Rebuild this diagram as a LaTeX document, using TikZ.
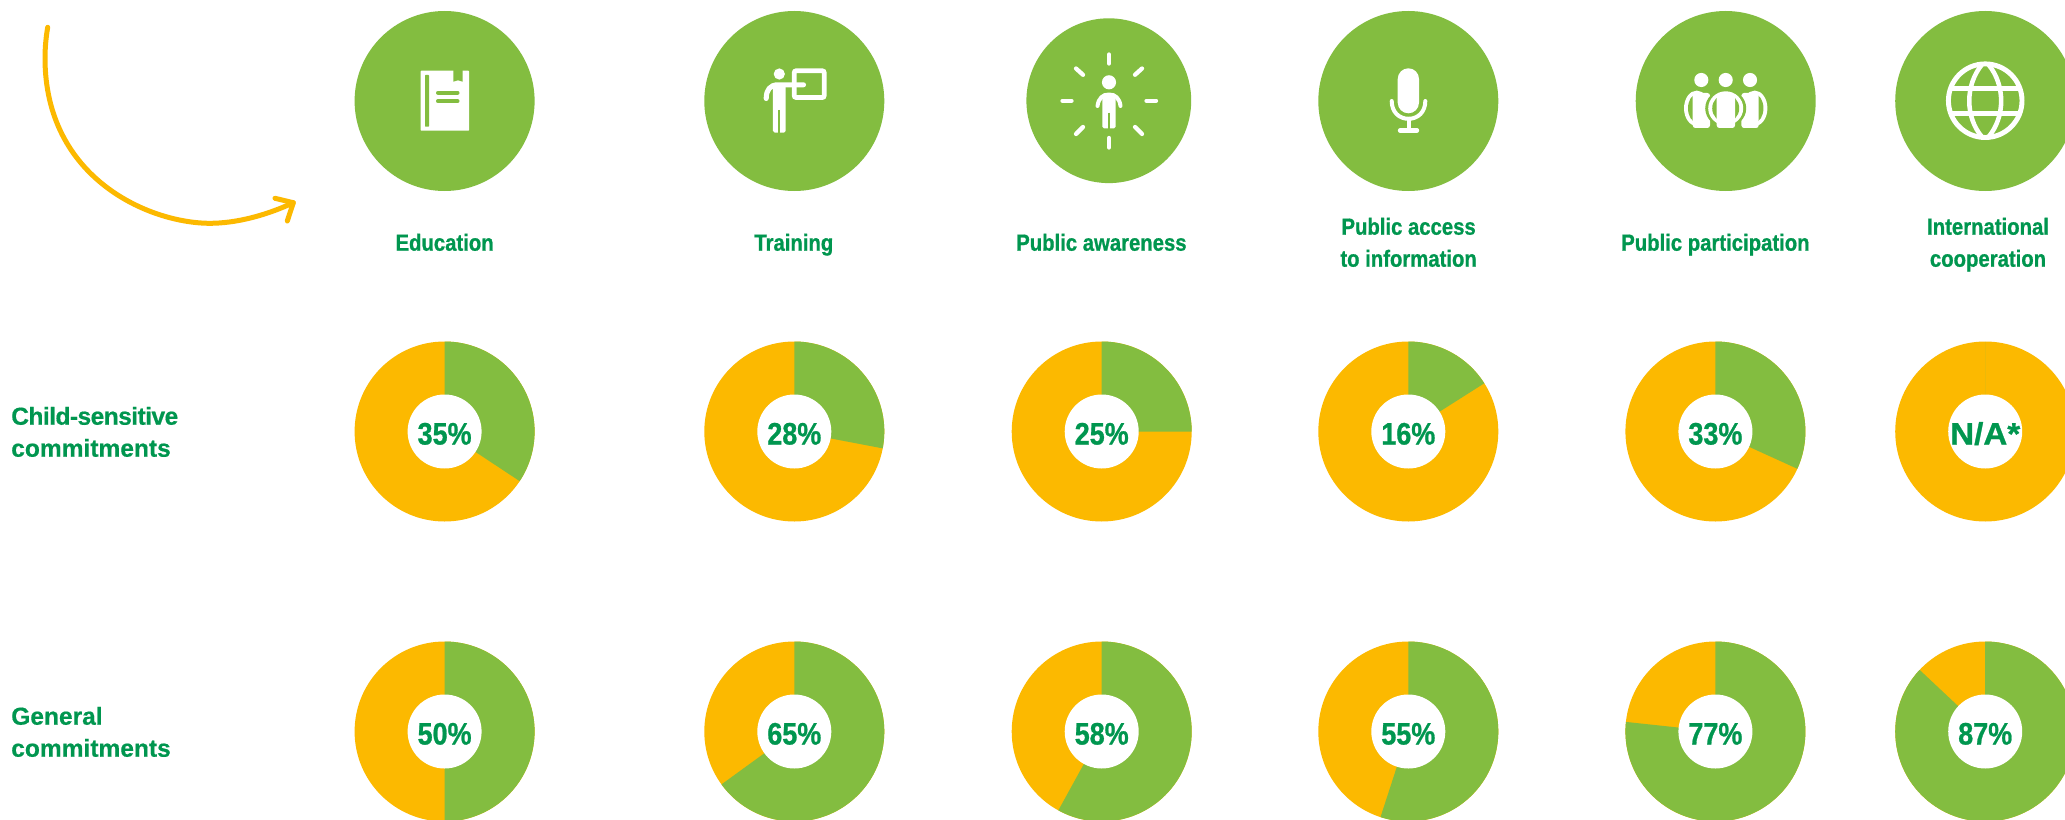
\documentclass[tikz,border=0pt]{standalone}
\usepackage{fontspec}
\setmainfont{Liberation Sans}[BoldFeatures={FakeBold=0.5}]
\newfontfamily\condfont[FakeStretch=0.87,BoldFeatures={FakeBold=0.8}]{Liberation Sans}
\newfontfamily\widefont[FakeStretch=1.07,BoldFeatures={FakeBold=0.8}]{Liberation Sans}
\definecolor{leaf}{HTML}{83BD40}
\definecolor{amber}{HTML}{FCB900}
\definecolor{ink}{HTML}{00964F}
\tikzset{
  disc/.style={circle,fill=leaf,draw=none,inner sep=0pt,outer sep=0pt,minimum size=135pt},
  orangedisc/.style={disc,fill=amber},
  hole/.style={circle,fill=white,inner sep=0pt,outer sep=0pt,minimum size=55.5pt},
  pct/.style={anchor=base,inner sep=0pt,text=ink,font=\condfont\bfseries\fontsize{23.25}{24}\selectfont},
  toplabel/.style={anchor=base,inner sep=0pt,align=center,text=ink,font=\condfont\bfseries\fontsize{17.5}{24}\selectfont},
  sidelabel/.style={anchor=base west,inner sep=0pt,align=left,text=ink,font=\bfseries\fontsize{18.4}{24}\selectfont},
  iconline/.style={draw=white,line cap=round,line join=round},
  arrowline/.style={amber,line width=3.75pt,line cap=round,line join=round},
}
\newcommand{\donut}[5]{%
  \node[orangedisc] (#1o) at (#2,#3) {};
  \pgfmathsetmacro{\sweep}{3.6*#4}
  \fill[leaf] (#1o.center) -- (#1o.north) arc[start angle=90,end angle=90-\sweep,radius=67.5pt] -- cycle;
  \node[hole] (#1h) at (#2,#3) {};
  \node[pct] (#1t) at (#2,#3+13) {#5};
}
\begin{document}
\begin{tikzpicture}[x=0.75pt,y=-0.75pt]
\path[use as bounding box,clip] (0,0) rectangle (2065,820);
\fill[white] (0,0) rectangle (2065,820);

% arrow
\coordinate (as) at (47.7,27.3);
\coordinate (am) at (45,58);
\coordinate (ab) at (210,223.3);
\coordinate (at) at (293.3,202.7);
\coordinate (b1) at (275,198.3);
\coordinate (b2) at (287.3,221);
\draw[arrowline]
  (as) .. controls (46,37) and (45,48) .. (am)
       .. controls (45,179) and (150,223.3) .. (ab)
       .. controls (235,223.3) and (265,216) .. (at);
\draw[arrowline] (b1) -- (at) -- (b2);

% icon discs
\node[disc] (i1) at (444.6,101) {};
\node[disc] (i2) at (794.3,101) {};
\node[disc,minimum size=123.6pt] (i3) at (1108.8,100.7) {};
\node[disc] (i4) at (1408.3,101) {};
\node[disc] (i5) at (1725.7,101) {};
\node[disc] (i6) at (1985.2,101) {};

% book
\fill[white,rounded corners=0.5pt] (420.7,70.7) rectangle (469,130.7);
\fill[leaf] (453.3,70) -- (462.7,70) -- (462.7,81.7) -- (458,80.3) -- (453.3,81.7) -- cycle;
\fill[leaf,rounded corners=0.5pt] (425,75) rectangle (429,126.7);
\draw[leaf,line width=3pt,line cap=round] (438,92.7) -- (457.5,92.7);
\draw[leaf,line width=3pt,line cap=round] (438,101.3) -- (457.5,101.3);

% training
\draw[white,line width=3.6pt,rounded corners=1.5pt] (794.2,70.8) rectangle (824.2,97.5);
\fill[white] (779.3,74) circle[radius=4.2pt];
\draw[iconline,line width=3.8pt] (766.2,98.5) .. controls (766.2,90) and (770,84.8) .. (778,84.8) -- (803.5,84.8);
\fill[white,rounded corners=1.4pt] (772.9,84) rectangle (785.7,132.7);
\draw[leaf,line width=1.3pt] (779.3,110) -- (779.3,134);

% awareness
\foreach \ax/\ay/\bx/\by in {1109/54.5/1109/63.5, 1109/138/1109/147.5, 1062.5/100.7/1071.5/100.7, 1146.5/100.7/1156/100.7,
  1076/68.5/1083/74.8, 1142/68.5/1135/74.8, 1076/134/1083/127, 1142/134/1135/127}
  \draw[iconline,line width=3.2pt] (\ax,\ay) -- (\bx,\by);
\fill[white] (1109,82.3) circle[radius=5.3pt];
\draw[iconline,line width=3pt] (1097.5,106) .. controls (1098.5,98) and (1103,94.5) .. (1109,94.5) .. controls (1115,94.5) and (1119.5,98) .. (1120.5,106);
\fill[white,rounded corners=1.2pt] (1102.3,93.5) rectangle (1115.7,128.3);
\draw[leaf,line width=1.2pt] (1109,112.7) -- (1109,129);

% microphone
\fill[white,rounded corners=8pt] (1397.7,68.3) rectangle (1419,113.3);
\draw[iconline,line width=3pt] (1391.7,101) .. controls (1391.7,112) and (1399,118.8) .. (1408.5,118.8) .. controls (1418,118.8) and (1425.3,112) .. (1425.3,101);
\draw[iconline,line width=3pt] (1408.5,118.8) -- (1408.5,130);
\draw[iconline,line width=3.3pt] (1400,130.5) -- (1417,130.5);

% group
\foreach \hx in {1701.3,1725.7,1750} \fill[white] (\hx,80) circle[radius=5.3pt];
\foreach \ex/\tl/\tr in {1696.7/1692.7/1710, 1754.7/1741.4/1758.7} {
  \fill[white] (\ex,108.3) ellipse[x radius=12.7,y radius=17.7];
  \fill[leaf] (\ex,108.3) ellipse[x radius=8.7,y radius=14];
  \fill[white,rounded corners=2pt] (\tl,93) rectangle (\tr,128);
}
\fill[leaf] (1725.7,108.3) ellipse[x radius=20.5,y radius=19];
\fill[white] (1725.7,108.3) ellipse[x radius=17.5,y radius=17];
\fill[leaf] (1725.7,108.3) ellipse[x radius=13.5,y radius=14];
\fill[white,rounded corners=2pt] (1716.7,94) rectangle (1735,128);

% globe
\draw[white,line width=3.7pt] (1985.2,100.7) circle[radius=27.6pt];
\draw[white,line width=3.4pt] (1950,88.3) -- (2020.4,88.3) (1950,113.3) -- (2020.4,113.3);
\draw[white,line width=3.4pt] (1982,64.5) .. controls (1965,85) and (1965,117) .. (1982,137)
                              (1988.4,64.5) .. controls (2005.4,85) and (2005.4,117) .. (1988.4,137);

% column labels
\node[toplabel] (l1) at (444.6,250.7) {Education};
\node[toplabel] (l2) at (793.8,250.7) {Training};
\node[toplabel] (l3) at (1101.4,250.7) {Public awareness};
\node[toplabel] (l4) at (1408.6,266.7) {Public access\\to information};
\node[toplabel] (l5) at (1715.4,250.7) {Public participation};
\node[toplabel] (l6) at (1988,266.7) {International\\cooperation};

% row labels
\node[sidelabel] (r1) at (11,456.7) {\addfontfeature{LetterSpace=-2.2}Child-sensitive\\commitments};
\node[sidelabel] (r2) at (11,756.7) {General\\commitments};

% donuts
\donut{a}{444.6}{431.5}{34.3}{35\%}
\donut{b}{794.3}{431.5}{28}{28\%}
\donut{c}{1101.7}{431.5}{25}{25\%}
\donut{d}{1408.3}{431.5}{16}{16\%}
\donut{e}{1715.4}{431.5}{31.8}{33\%}
\donut{f}{1985.2}{431.5}{0}{{\widefont\bfseries N/A*}}
\donut{g}{444.6}{731.5}{50}{50\%}
\donut{h}{794.3}{731.5}{65}{65\%}
\donut{k}{1101.7}{731.5}{58}{58\%}
\donut{m}{1408.3}{731.5}{55}{55\%}
\donut{n}{1715.4}{731.5}{76.7}{77\%}
\donut{p}{1985.2}{731.5}{87}{87\%}
\end{tikzpicture}
\end{document}
